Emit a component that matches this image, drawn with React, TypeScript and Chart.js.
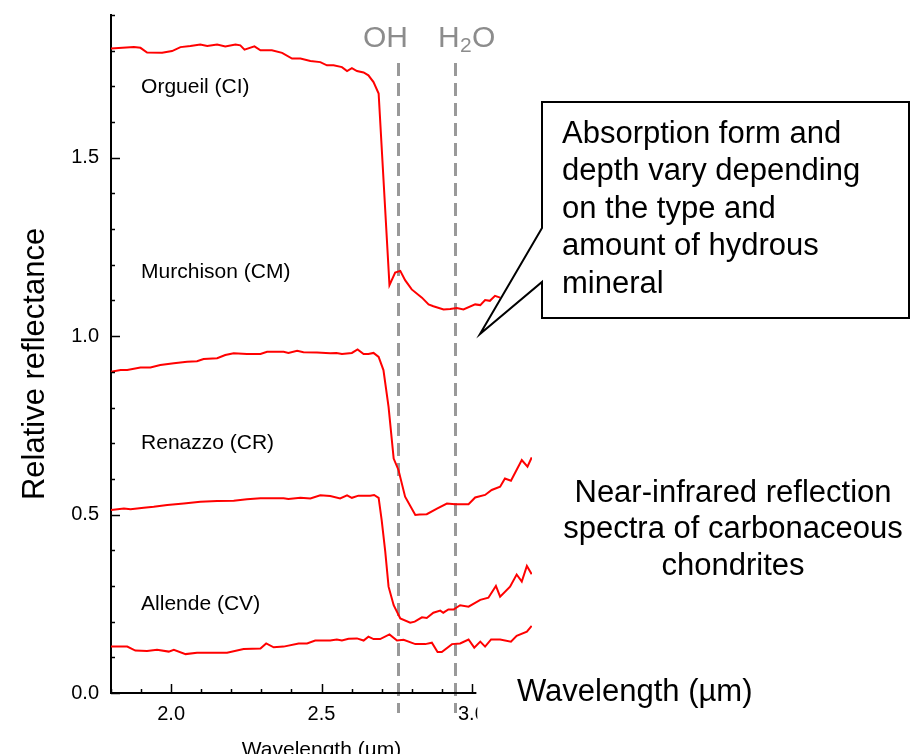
import React, { useEffect, useRef } from "react";
import { Chart, registerables } from "chart.js";
Chart.register(...registerables);

const FONT = "'Liberation Sans', Arial, Helvetica, sans-serif";

// Wavelength (µm) / relative reflectance
const orgueilX = [1.80, 1.876, 1.898, 1.92, 1.97, 2.003, 2.031, 2.064, 2.097, 2.12, 2.153, 2.18, 2.214, 2.23, 2.244, 2.277, 2.297, 2.335, 2.369, 2.402, 2.43, 2.463, 2.496, 2.518, 2.54, 2.568, 2.585, 2.601, 2.618, 2.64, 2.656, 2.673, 2.69, 2.726, 2.745, 2.762, 2.778, 2.80, 2.834, 2.856, 2.872, 2.906, 2.928, 2.95, 2.972, 3.011, 3.028, 3.044, 3.06, 3.077, 3.094];
const orgueilY = [1.806, 1.810, 1.808, 1.795, 1.794, 1.799, 1.810, 1.813, 1.817, 1.813, 1.817, 1.812, 1.817, 1.815, 1.803, 1.812, 1.801, 1.801, 1.794, 1.778, 1.778, 1.771, 1.768, 1.759, 1.759, 1.754, 1.743, 1.751, 1.743, 1.739, 1.731, 1.712, 1.680, 1.143, 1.178, 1.183, 1.157, 1.131, 1.108, 1.089, 1.084, 1.075, 1.076, 1.079, 1.075, 1.089, 1.087, 1.101, 1.099, 1.113, 1.108];

const murchisonX = [1.80, 1.832, 1.854, 1.898, 1.931, 1.964, 2.009, 2.053, 2.086, 2.108, 2.153, 2.18, 2.208, 2.252, 2.297, 2.319, 2.374, 2.39, 2.419, 2.44, 2.485, 2.529, 2.55, 2.568, 2.601, 2.62, 2.64, 2.656, 2.673, 2.69, 2.706, 2.723, 2.74, 2.756, 2.778, 2.812, 2.826, 2.85, 2.884, 2.917, 2.944, 2.989, 3.011, 3.044, 3.066, 3.094, 3.11, 3.13, 3.166, 3.185, 3.199];
const murchisonY = [0.900, 0.905, 0.905, 0.912, 0.912, 0.919, 0.924, 0.928, 0.930, 0.936, 0.938, 0.947, 0.952, 0.950, 0.950, 0.956, 0.956, 0.953, 0.959, 0.955, 0.954, 0.952, 0.953, 0.950, 0.953, 0.963, 0.950, 0.950, 0.953, 0.942, 0.905, 0.802, 0.657, 0.625, 0.550, 0.499, 0.500, 0.501, 0.517, 0.531, 0.529, 0.529, 0.548, 0.555, 0.569, 0.578, 0.601, 0.595, 0.653, 0.634, 0.660];

const renazzoX = [1.80, 1.843, 1.865, 1.909, 1.942, 1.987, 2.042, 2.097, 2.153, 2.208, 2.252, 2.297, 2.374, 2.39, 2.43, 2.463, 2.496, 2.529, 2.562, 2.585, 2.601, 2.623, 2.662, 2.675, 2.69, 2.70, 2.712, 2.723, 2.74, 2.762, 2.795, 2.81, 2.834, 2.85, 2.872, 2.895, 2.905, 2.922, 2.939, 2.961, 2.989, 3.028, 3.055, 3.08, 3.094, 3.127, 3.149, 3.166, 3.183, 3.199];
const renazzoY = [0.513, 0.517, 0.515, 0.519, 0.522, 0.527, 0.531, 0.536, 0.538, 0.539, 0.543, 0.546, 0.546, 0.544, 0.547, 0.545, 0.554, 0.552, 0.545, 0.554, 0.547, 0.553, 0.553, 0.555, 0.547, 0.485, 0.396, 0.298, 0.246, 0.209, 0.197, 0.200, 0.212, 0.210, 0.225, 0.231, 0.225, 0.234, 0.234, 0.246, 0.242, 0.261, 0.267, 0.300, 0.270, 0.298, 0.332, 0.312, 0.356, 0.333];

const allendeX = [1.80, 1.854, 1.881, 1.92, 1.953, 1.992, 2.009, 2.048, 2.086, 2.131, 2.186, 2.241, 2.297, 2.316, 2.341, 2.374, 2.424, 2.452, 2.479, 2.529, 2.551, 2.568, 2.59, 2.618, 2.64, 2.656, 2.673, 2.695, 2.726, 2.751, 2.773, 2.812, 2.845, 2.867, 2.886, 2.90, 2.934, 2.961, 2.989, 3.008, 3.028, 3.044, 3.064, 3.094, 3.13, 3.149, 3.183, 3.199];
const allendeY = [0.130, 0.130, 0.119, 0.118, 0.121, 0.116, 0.121, 0.109, 0.113, 0.113, 0.113, 0.123, 0.125, 0.139, 0.128, 0.130, 0.139, 0.139, 0.147, 0.147, 0.150, 0.147, 0.152, 0.153, 0.147, 0.158, 0.151, 0.151, 0.164, 0.147, 0.149, 0.137, 0.137, 0.141, 0.115, 0.115, 0.137, 0.139, 0.150, 0.127, 0.144, 0.130, 0.150, 0.150, 0.144, 0.160, 0.172, 0.188];

const seriesNames = ["Orgueil (CI)", "Murchison (CM)", "Renazzo (CR)", "Allende (CV)"];
const labelX = [1.9, 1.9, 1.9, 1.9];
const labelY = [1.697, 1.18, 0.70, 0.248];

const bandX = [2.755, 2.945];
const xMin = 1.8, xMax = 3.2, xAxisEnd = 3.015;
const yMin = 0, yMax = 1.9;

const calloutLines = ["Absorption form and", "depth vary depending", "on the type and", "amount of hydrous", "mineral"];
const captionLines = ["Near-infrared reflection", "spectra of carbonaceous", "chondrites"];

const isMajor = (v: number) => Math.abs(v / 0.5 - Math.round(v / 0.5)) < 1e-6;

const pts = (xs: number[], ys: number[]) => xs.map((x, i) => ({ x, y: ys[i] }));

export default function App() {
  const ref = useRef<HTMLCanvasElement | null>(null);
  useEffect(() => {
    if (!ref.current) return;
    const overlay = {
      id: "overlay",
      beforeDatasetsDraw(chart: any) {
        const { ctx, scales } = chart;
        const x = scales.x;
        ctx.save();
        ctx.strokeStyle = "#999999";
        ctx.lineWidth = 3;
        ctx.setLineDash([13, 7]);
        for (const v of bandX) {
          const px = Math.round(x.getPixelForValue(v)) + 0.5;
          ctx.beginPath();
          ctx.moveTo(px, 63);
          ctx.lineTo(px, 713);
          ctx.stroke();
        }
        ctx.restore();
      },
      afterDraw(chart: any) {
        const { ctx, scales, chartArea } = chart;
        const x = scales.x, y = scales.y;
        ctx.save();
        // x axis line (only up to just past 3.0)
        ctx.strokeStyle = "#000";
        ctx.lineWidth = 2;
        const by = chartArea.bottom;
        ctx.beginPath();
        ctx.moveTo(chartArea.left - 1, by);
        ctx.lineTo(x.getPixelForValue(xAxisEnd), by);
        ctx.stroke();
        // inward ticks
        ctx.lineWidth = 1.5;
        for (const t of x.ticks) {
          const px = Math.round(x.getPixelForValue(t.value)) + 0.5;
          const len = isMajor(t.value) ? 9 : 4;
          ctx.beginPath();
          ctx.moveTo(px, by);
          ctx.lineTo(px, by - len);
          ctx.stroke();
        }
        for (const t of y.ticks) {
          const py = Math.round(y.getPixelForValue(t.value)) + 0.5;
          const len = isMajor(t.value) ? 9 : 4;
          ctx.beginPath();
          ctx.moveTo(chartArea.left, py);
          ctx.lineTo(chartArea.left + len, py);
          ctx.stroke();
        }
        // cut-off of the right end of the axis (as in reference)
        ctx.fillStyle = "#fff";
        ctx.fillRect(x.getPixelForValue(xAxisEnd) + 1, by + 8, 30, 26);

        // series labels
        ctx.fillStyle = "#000";
        ctx.font = `21px ${FONT}`;
        ctx.textAlign = "left";
        ctx.textBaseline = "middle";
        seriesNames.forEach((n, i) => {
          ctx.fillText(n, x.getPixelForValue(labelX[i]), y.getPixelForValue(labelY[i]));
        });

        // OH / H2O
        ctx.fillStyle = "#8c8c8c";
        ctx.textBaseline = "alphabetic";
        ctx.font = `30px ${FONT}`;
        ctx.fillText("OH", 363, 47);
        ctx.fillText("H", 438, 47);
        ctx.font = `21px ${FONT}`;
        ctx.fillText("2", 460, 52);
        ctx.font = `30px ${FONT}`;
        ctx.fillText("O", 472, 47);

        // axis titles
        ctx.fillStyle = "#000";
        ctx.font = `31px ${FONT}`;
        ctx.save();
        ctx.translate(35, 364);
        ctx.rotate(-Math.PI / 2);
        ctx.textAlign = "center";
        ctx.textBaseline = "middle";
        ctx.fillText("Relative reflectance", 0, 0);
        ctx.restore();
        ctx.textAlign = "left";
        ctx.textBaseline = "middle";
        ctx.fillText("Wavelength (\u00b5m)", 517, 692);
        ctx.font = `21px ${FONT}`;
        ctx.textAlign = "center";
        ctx.textBaseline = "alphabetic";
        ctx.fillText("Wavelength (\u00b5m)", (chartArea.left + chartArea.right) / 2, 756);

        // caption
        ctx.font = `31px ${FONT}`;
        ctx.textAlign = "center";
        ctx.textBaseline = "middle";
        captionLines.forEach((l, i) => ctx.fillText(l, 733, 493 + i * 36.5));

        // callout
        ctx.beginPath();
        ctx.moveTo(542, 102);
        ctx.lineTo(909, 102);
        ctx.lineTo(909, 318);
        ctx.lineTo(542, 318);
        ctx.lineTo(542, 282);
        ctx.lineTo(480, 334);
        ctx.lineTo(542, 228);
        ctx.closePath();
        ctx.fillStyle = "#fff";
        ctx.fill();
        ctx.strokeStyle = "#000";
        ctx.lineWidth = 2;
        ctx.lineJoin = "miter";
        ctx.stroke();
        ctx.fillStyle = "#000";
        ctx.textAlign = "left";
        ctx.textBaseline = "middle";
        calloutLines.forEach((l, i) => ctx.fillText(l, 562, 134 + i * 37.6));
        ctx.restore();
      },
    };

    const mk = (xs: number[], ys: number[], label: string) => ({
      label,
      data: pts(xs, ys),
      borderColor: "#ff0000",
      borderWidth: 2,
      pointRadius: 0,
      tension: 0,
      fill: false,
    });

    const chart = new Chart(ref.current, {
      type: "line",
      data: {
        datasets: [
          mk(orgueilX, orgueilY, seriesNames[0]),
          mk(murchisonX, murchisonY, seriesNames[1]),
          mk(renazzoX, renazzoY, seriesNames[2]),
          mk(allendeX, allendeY, seriesNames[3]),
        ],
      },
      options: {
        responsive: false,
        animation: false,
        events: [],
        layout: { padding: { left: 0, top: 15, right: 378, bottom: 0 } },
        plugins: { legend: { display: false }, title: { display: false }, tooltip: { enabled: false } },
        scales: {
          x: {
            type: "linear",
            min: xMin,
            max: xMax,
            grid: { display: false, drawTicks: false },
            border: { display: false },
            afterFit: (s: any) => { s.height = 61; s.paddingLeft = 0; s.paddingRight = 0; },
            afterBuildTicks: (s: any) => { s.ticks = s.ticks.filter((t: any) => t.value <= 3.0001); },
            ticks: {
              stepSize: 0.1,
              autoSkip: false,
              maxRotation: 0,
              padding: 9,
              color: "#000",
              font: { family: FONT, size: 20 },
              callback: (v: any) => (isMajor(Number(v)) ? Number(v).toFixed(1) : ""),
            },
          },
          y: {
            type: "linear",
            min: yMin,
            max: yMax,
            grid: { display: false, drawTicks: false },
            border: { display: true, color: "#000", width: 2 },
            afterFit: (s: any) => { s.width = 111; s.paddingTop = 0; s.paddingBottom = 0; },
            ticks: {
              stepSize: 0.1,
              autoSkip: false,
              padding: 12,
              color: "#000",
              font: { family: FONT, size: 20 },
              callback: (v: any) => (isMajor(Number(v)) ? Number(v).toFixed(1) : ""),
            },
          },
        },
      },
      plugins: [overlay],
    } as any);
    return () => chart.destroy();
  }, []);

  return (
    <div style={{ position: "fixed", left: 0, top: 0, width: 910, height: 754, background: "#fff" }}>
      <canvas ref={ref} width={910} height={754} style={{ width: 910, height: 754, display: "block" }} />
    </div>
  );
}
